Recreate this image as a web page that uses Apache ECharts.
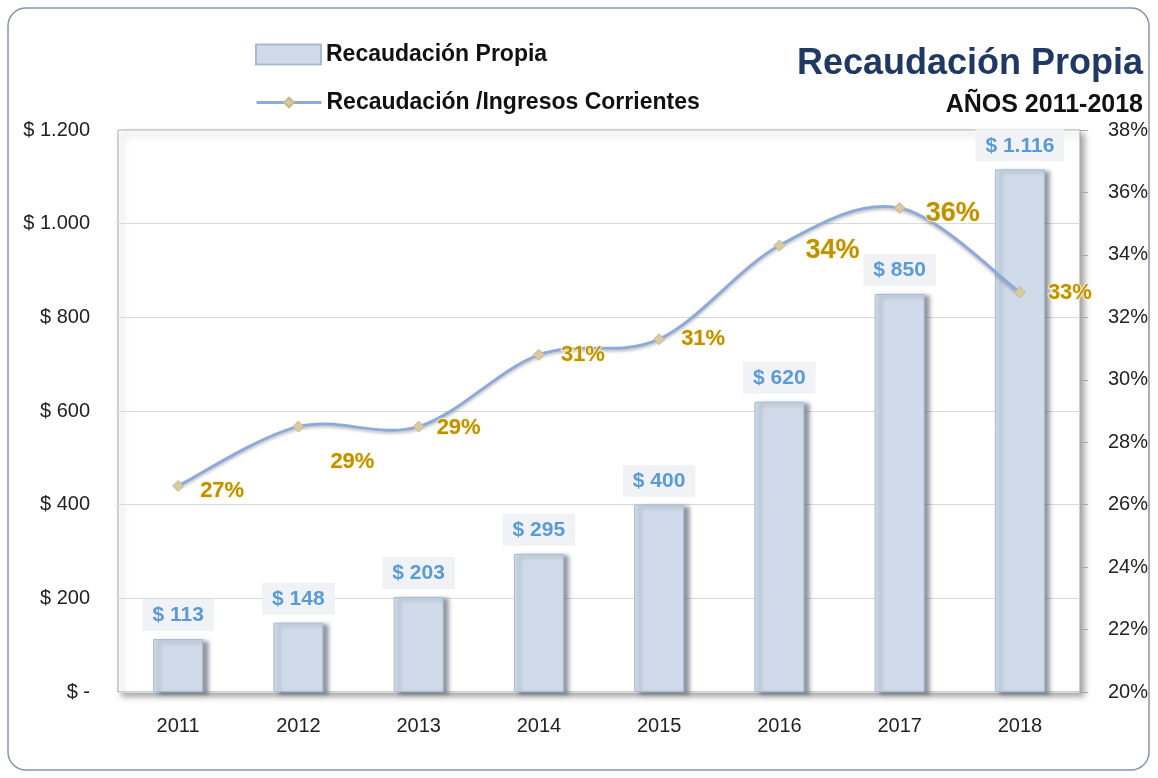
<!DOCTYPE html>
<html>
<head>
<meta charset="utf-8">
<script src="https://cdn.jsdelivr.net/npm/echarts@6/dist/echarts.min.js"></script>
<style>
html,body{margin:0;padding:0;background:#fff;}
#chart{width:1158px;height:778px;}
</style>
</head>
<body>
<div id="chart"></div>
<script>
const categories = ['2011','2012','2013','2014','2015','2016','2017','2018'];
const recaudacion = [113, 148, 203, 295, 400, 620, 850, 1116];
const ratio = [26.6, 28.5, 28.5, 30.8, 31.3, 34.3, 35.5, 32.8];
const ratioLabels = ['27%','29%','29%','31%','31%','34%','36%','33%'];
const leftTicks = {min: 0, max: 1200, interval: 200};
const rightTicks = {min: 20, max: 38, interval: 2};

const sans = "'Liberation Sans',Arial,sans-serif";
const LINE_COLOR = '#8eaadb';

function fmtMoney(v){
  if (v === 0) return '$ -';
  return '$ ' + String(v).replace(/\B(?=(\d{3})+(?!\d))/g, '.');
}

const lineData = ratio.map((v,i)=>{
  const item = {value: v, label: {formatter: ratioLabels[i]}};
  if (i === 5 || i === 6) { item.label.fontSize = 27; item.label.offset = [4, 5]; }
  if (i === 0) item.label.offset = [0, 5];
  if (i === 1) item.label.offset = [10, 35];
  if (i === 2) item.label.offset = [-4, 1];
  if (i === 7) item.label.offset = [6, 1];
  return item;
});

// Catmull-Rom (Excel-like) smoothing drawn through the chart's own coordinate system
function renderCurve(params, api){
  const i = params.dataIndex;
  const n = ratio.length;
  if (i >= n - 1) return null;
  const P = k => api.coord([Math.max(0, Math.min(n - 1, k)), ratio[Math.max(0, Math.min(n - 1, k))]]);
  const p0 = P(i - 1), p1 = P(i), p2 = P(i + 1), p3 = P(i + 2);
  return {
    type: 'bezierCurve',
    shape: {
      x1: p1[0], y1: p1[1], x2: p2[0], y2: p2[1],
      cpx1: p1[0] + (p2[0] - p0[0]) / 6, cpy1: p1[1] + (p2[1] - p0[1]) / 6,
      cpx2: p2[0] - (p3[0] - p1[0]) / 6, cpy2: p2[1] - (p3[1] - p1[1]) / 6
    },
    style: {stroke: LINE_COLOR, lineWidth: 3, fill: null,
      shadowColor: 'rgba(0,0,0,0.25)', shadowBlur: 3, shadowOffsetY: 2}
  };
}

const chart = echarts.init(document.getElementById('chart'));
chart.setOption({
  backgroundColor: '#fff',
  animation: false,
  graphic: [{
    type: 'rect', silent: true, z: -10,
    shape: {x: 8, y: 8, width: 1141, height: 762, r: 18},
    style: {fill: '#fff', stroke: '#8497ad', lineWidth: 1.5}
  }],
  title: [{
    text: 'Recaudación Propia', right: 10, top: 41,
    textStyle: {fontFamily: sans, fontSize: 36, fontWeight: 'bold', color: '#1f3864'}
  },{
    text: 'AÑOS 2011-2018', right: 10, top: 88,
    textStyle: {fontFamily: sans, fontSize: 25, fontWeight: 'bold', color: '#111'}
  }],
  legend: [{
    orient: 'vertical', left: 250, top: 38,
    itemWidth: 65, itemHeight: 20, itemGap: 6,
    textStyle: {fontFamily: sans, fontSize: 23, fontWeight: 'bold', color: '#111'},
    data: [{name: 'Recaudación Propia', icon: 'rect'}]
  },{
    orient: 'vertical', left: 250, top: 86,
    itemWidth: 65, itemHeight: 12, itemGap: 6,
    textStyle: {fontFamily: sans, fontSize: 23, fontWeight: 'bold', color: '#111'},
    data: [{name: 'Recaudación /Ingresos Corrientes',
      lineStyle: {color: LINE_COLOR, width: 3, opacity: 1}}]
  }],
  grid: {
    left: 118, right: 78, top: 130, bottom: 86,
    show: true, backgroundColor: '#fff', borderColor: '#a6a6a6', borderWidth: 1,
    shadowColor: 'rgba(0,0,0,0.35)', shadowBlur: 6, shadowOffsetX: 4, shadowOffsetY: 4
  },
  xAxis: {
    type: 'category', data: categories,
    axisLine: {show: false}, axisTick: {show: false},
    axisLabel: {margin: 24, fontFamily: sans, fontSize: 20, color: '#222'}
  },
  yAxis: [{
    type: 'value', min: leftTicks.min, max: leftTicks.max, interval: leftTicks.interval,
    axisLine: {show: false}, axisTick: {show: false},
    splitLine: {lineStyle: {color: '#d9d9d9', width: 1}},
    axisLabel: {margin: 28, fontFamily: sans, fontSize: 20, color: '#222', formatter: fmtMoney}
  },{
    type: 'value', min: rightTicks.min, max: rightTicks.max, interval: rightTicks.interval,
    position: 'right',
    axisLine: {show: false},
    axisTick: {show: true, length: 8, lineStyle: {color: '#a6a6a6'}},
    splitLine: {show: false},
    axisLabel: {margin: 28, fontFamily: sans, fontSize: 20, color: '#222', formatter: v => v + '%'}
  }],
  series: [{
    name: 'Recaudación Propia', type: 'bar', data: recaudacion, barWidth: 50,
    itemStyle: {color: '#d0dbe9', borderColor: '#a9bbd1', borderWidth: 1,
      shadowColor: 'rgba(60,70,90,0.55)', shadowBlur: 4, shadowOffsetX: 5, shadowOffsetY: 2},
    label: {
      show: true, position: 'top', distance: 8,
      formatter: p => fmtMoney(p.value),
      fontFamily: sans, fontSize: 21, fontWeight: 'bold', color: '#5b9bd5',
      backgroundColor: '#f0f2f5', padding: [6, 10, 5, 10]
    }
  },{
    name: 'curve', type: 'custom', yAxisIndex: 1, data: ratio,
    renderItem: renderCurve, silent: true, z: 4
  },{
    name: 'Recaudación /Ingresos Corrientes', type: 'line', yAxisIndex: 1,
    data: lineData,
    symbol: 'diamond', symbolSize: 11,
    lineStyle: {width: 0, opacity: 0},
    itemStyle: {color: '#d8cba2', borderColor: '#c8b88a', borderWidth: 1},
    label: {
      show: true, position: 'right', distance: 16,
      fontFamily: sans, fontSize: 22, fontWeight: 'bold', color: '#bf9000',
      textBorderColor: 'rgba(255,245,210,0.9)', textBorderWidth: 2
    },
    z: 5
  }]
});
</script>
</body>
</html>
